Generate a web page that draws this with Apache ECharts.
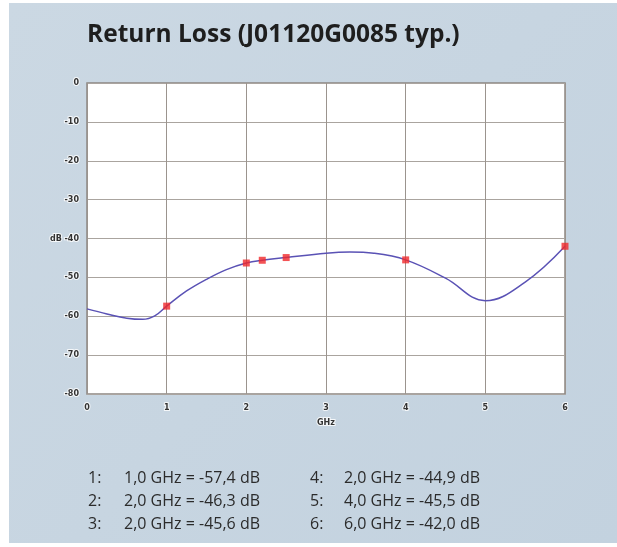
<!DOCTYPE html>
<html>
<head>
<meta charset="utf-8">
<script src="https://cdn.jsdelivr.net/npm/echarts@6/dist/echarts.min.js"></script>
<style>
  html, body { margin: 0; padding: 0; background: #fff; }
  #chart { width: 617px; height: 547px; }
</style>
</head>
<body>
<div id="chart"></div>
<script>
// curve: [GHz, dB]
const curveGHz = [0, 0.25, 0.5, 0.7, 0.85, 1.0, 1.25, 1.5, 1.75, 2.0, 2.2, 2.5, 3.0, 3.3, 3.6, 4.0, 4.5, 5.0, 5.5, 6.0]
const curveDb = [-58.1, -59.4, -60.5, -60.8, -59.9, -57.4, -53.5, -50.5, -48.0, -46.3, -45.6, -44.9, -43.8, -43.5, -43.8, -45.5, -50.2, -56.0, -51.2, -42.0]

// marker points
const markerGHz = [1.0, 2.0, 2.2, 2.5, 4.0, 6.0]
const markerDb = [-57.4, -46.3, -45.6, -44.9, -45.5, -42.0]

const xTicks = [0, 1, 2, 3, 4, 5, 6]
const yTicks = [0, -10, -20, -30, -40, -50, -60, -70, -80]

const legendLeft = ['1:', '2:', '3:']
const legendLeftText = ['1,0 GHz = -57,4 dB', '2,0 GHz = -46,3 dB', '2,0 GHz = -45,6 dB']
const legendRight = ['4:', '5:', '6:']
const legendRightText = ['2,0 GHz = -44,9 dB', '4,0 GHz = -45,5 dB', '6,0 GHz = -42,0 dB']

const title = 'Return Loss (J01120G0085 typ.)'

const chart = echarts.init(document.getElementById('chart'))

const legendFont = { fontFamily: 'Open Sans', fontSize: 16, fill: '#2b2b2b' }
const legendItems = []
legendLeft.forEach((n, i) => {
  const y = 470 + i * 23
  legendItems.push({ type: 'text', left: 88, top: y, style: { ...legendFont, text: n } })
  legendItems.push({ type: 'text', left: 124, top: y, style: { ...legendFont, text: legendLeftText[i] } })
  legendItems.push({ type: 'text', left: 310, top: y, style: { ...legendFont, text: legendRight[i] } })
  legendItems.push({ type: 'text', left: 344, top: y, style: { ...legendFont, text: legendRightText[i] } })
})

const tickLabel = {
  fontFamily: 'DejaVu Sans',
  fontSize: 8,
  fontWeight: 'bold',
  color: '#333',
  textBorderColor: 'rgba(255,255,255,0.8)',
  textBorderWidth: 2,
}

chart.setOption({
  backgroundColor: '#fff',
  animation: false,
  graphic: [
    {
      type: 'rect',
      z: -10,
      shape: { x: 9, y: 3, width: 608, height: 540 },
      style: {
        fill: {
          type: 'linear', x: 0, y: 0, x2: 1, y2: 1,
          colorStops: [
            { offset: 0, color: '#cbd8e3' },
            { offset: 1, color: '#c3d2df' },
          ],
        },
      },
    },
    {
      type: 'text',
      left: 87,
      top: 23,
      style: {
        text: title,
        fontFamily: 'Open Sans',
        fontWeight: 'bold',
        fontSize: 24.5,
        fill: '#1e1e1e',
      },
    },
    ...legendItems,
  ],
  grid: {
    left: 87,
    top: 83,
    width: 478,
    height: 311,
    show: true,
    backgroundColor: '#fff',
    borderColor: '#8c8782',
    borderWidth: 1.5,
  },
  xAxis: {
    type: 'value',
    min: xTicks[0],
    max: xTicks[xTicks.length - 1],
    interval: 1,
    name: 'GHz',
    nameLocation: 'middle',
    nameGap: 20,
    nameTextStyle: { ...tickLabel },
    axisLine: { show: false },
    axisTick: { show: false },
    axisLabel: { ...tickLabel, margin: 10 },
    splitLine: { lineStyle: { color: '#9b948e', width: 1 } },
  },
  yAxis: {
    type: 'value',
    min: yTicks[yTicks.length - 1],
    max: yTicks[0],
    interval: 10,
    axisLine: { show: false },
    axisTick: { show: false },
    axisLabel: {
      ...tickLabel,
      margin: 8,
      formatter: (v) => (v === -40 ? 'dB -40' : String(v)),
    },
    splitLine: { lineStyle: { color: '#aaa49f', width: 1 } },
  },
  series: [
    {
      type: 'line',
      data: curveGHz.map((x, i) => [x, curveDb[i]]),
      smooth: 0.4,
      showSymbol: false,
      lineStyle: { color: '#5a52b5', width: 1.5 },
      z: 2,
    },
    {
      type: 'scatter',
      data: markerGHz.map((x, i) => [x, markerDb[i]]),
      symbol: 'rect',
      symbolSize: 7,
      itemStyle: { color: '#f0282a' },
      z: 3,
    },
  ],
})
</script>
</body>
</html>
